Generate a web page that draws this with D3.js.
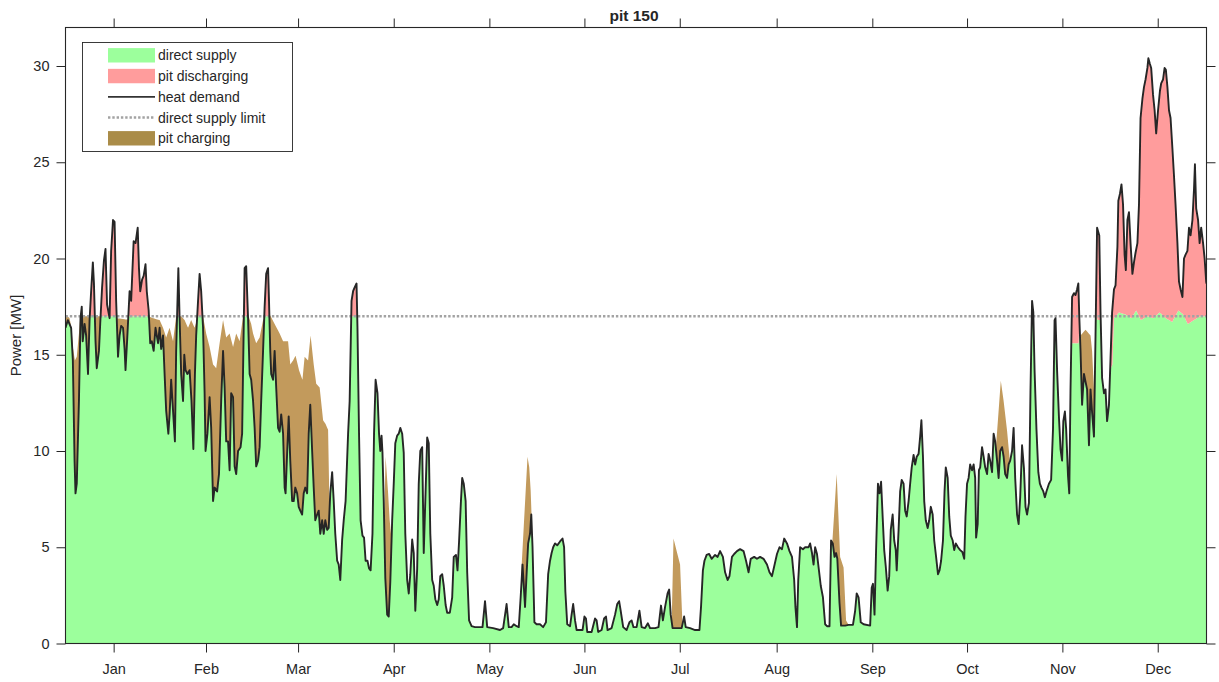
<!DOCTYPE html>
<html><head><meta charset="utf-8">
<script src="https://cdn.jsdelivr.net/npm/d3@7"></script>
<style>
body{margin:0;background:#fff;}
svg text{font-family:"Liberation Sans",Arial,Helvetica,sans-serif;fill:#262626;}
</style>
</head><body>
<svg id="chart" width="1219" height="682"></svg>
<script>
// ---------------- data ----------------
const chartTitle = "pit 150";
const monthLabels = ["Jan","Feb","Mar","Apr","May","Jun","Jul","Aug","Sep","Oct","Nov","Dec"];
const monthTickDays = [15.4,44.95,74.4,105.0,135.6,166.0,196.5,227.5,258.1,288.4,318.9,349.4];
const yTicks = [0,5,10,15,20,25,30];
const supplyLimit = 17;

// heat demand [day of year, MW]
const heatDemand = [
[0,16.4],[0.75,16.8],[1.8,16.4],[2.35,14.7],[2.9,9.5],[3.2,7.8],[3.6,8.3],[4.3,12.6],[4.8,16.9],[5.2,17.5],[5.5,15.7],[6.1,16.6],[6.6,16.0],[7.2,14.0],[7.7,16.8],[8.2,18.3],[8.75,19.8],[9.1,18.7],[9.6,15.7],[10.0,14.3],[10.7,15.2],[11.1,16.6],[11.7,18.5],[12.3,19.9],[12.8,20.5],[13.3,17.6],[14.1,16.9],[14.6,20.4],[15.2,22.0],[15.7,21.9],[16.2,17.8],[16.8,14.9],[17.3,16.0],[17.8,16.5],[18.4,16.4],[18.9,15.3],[19.2,14.2],[19.7,15.7],[20.5,18.3],[21.0,17.8],[21.8,20.9],[22.4,20.8],[23.1,21.6],[23.5,19.5],[23.9,18.3],[24.5,18.9],[25.0,19.1],[25.6,19.7],[26.0,18.3],[26.6,17.3],[27.1,15.6],[27.6,15.7],[28.2,15.2],[28.8,16.4],[29.6,15.6],[30.1,16.4],[30.6,15.3],[31.2,16.0],[31.7,14.0],[32.2,12.1],[32.9,10.9],[33.3,11.9],[33.8,13.7],[34.4,12.1],[35.0,10.5],[35.4,15.2],[36.1,19.5],[36.5,16.9],[37.0,14.0],[37.6,12.6],[38.0,15.0],[38.4,14.2],[39.0,14.0],[39.7,14.2],[40.3,12.6],[40.9,10.1],[41.4,14.0],[41.8,16.0],[42.4,17.8],[42.9,19.2],[43.4,18.3],[44.0,16.4],[44.5,13.0],[44.8,10.0],[45.4,10.9],[46.1,12.8],[46.6,11.2],[47.2,7.4],[47.7,8.1],[48.5,7.9],[49.1,8.8],[49.8,12.6],[50.4,15.2],[50.9,13.3],[51.4,10.5],[52.0,10.5],[52.5,9.0],[53.0,13.0],[53.6,12.8],[54.1,9.2],[54.6,8.8],[55.2,10.0],[56.0,10.2],[56.5,10.9],[56.8,14.2],[57.3,19.5],[57.8,19.6],[58.4,16.9],
[58.9,14.0],[59.4,13.7],[60.0,12.6],[60.5,11.2],[61.0,9.2],[61.6,9.5],[62.1,10.2],[62.6,12.6],[63.2,15.2],[63.7,17.5],[64.2,19.2],[64.8,19.5],[65.1,17.8],[65.5,15.2],[65.8,14.0],[66.4,13.7],[66.9,15.2],[67.4,13.3],[68.0,11.2],[68.5,11.0],[69.0,11.9],[69.6,10.9],[70.1,8.1],[70.4,7.8],[70.9,9.9],[71.4,11.8],[71.9,9.5],[72.5,7.4],[73.0,7.4],[73.5,8.1],[74.1,7.8],[74.6,7.1],[75.1,6.9],[75.7,6.7],[76.2,7.8],[76.7,8.1],[77.3,7.8],[77.8,10.9],[78.3,12.4],[78.9,10.0],[79.4,8.1],[79.9,6.4],[80.5,6.7],[81.0,6.9],[81.5,5.7],[82.1,6.4],[82.6,5.7],[83.1,6.4],[83.7,5.9],[84.2,6.0],[84.7,7.8],[85.3,8.9],[85.8,7.4],[86.3,5.7],[86.9,4.3],[87.4,4.1],[87.9,3.3],[88.5,5.4],[89.0,6.4],[89.6,7.4],[90.4,10.9],[90.9,12.6],[91.5,17.8],[92.0,18.3],[92.5,18.5],[93.1,18.7],[93.4,16.4],[93.9,10.9],[94.4,6.4],[95.0,5.6],[95.5,5.5],[96.0,4.3],[96.6,4.3],[97.1,3.9],[97.6,3.8],[98.2,5.7],[98.7,10.9],[99.2,13.7],[99.8,13.0],[100.3,10.9],[100.7,10.0],[101.1,10.8],[101.4,9.9],[101.8,7.4],[102.3,3.4],[102.9,1.5],[103.4,1.4],[103.9,3.2],[104.5,6.4],[105.0,8.3],[105.5,10.4],[106.1,10.8],[106.6,10.9],[107.1,11.2],[107.7,10.9],[108.2,9.9],[108.7,5.7],[109.3,3.3],[109.8,2.6],[110.3,3.6],[110.9,5.4],[111.4,4.7],[111.9,1.7],[112.5,3.9],[113.0,8.3],[113.5,10.0],[114.1,10.2],[114.6,4.7],[115.1,7.4],[115.7,10.7],[116.2,10.4],[116.7,5.7],[117.3,3.3],[117.8,3.0],[118.3,2.3],[118.9,2.0],[119.4,2.3],[119.9,3.5],[120.5,3.6],[121.0,3.0],[121.6,2.0],
[122.1,1.6],[122.95,1.6],[123.7,2.4],[124.2,4.5],[124.9,4.6],[125.4,3.8],[125.9,5.3],[126.5,7.4],[126.9,8.6],[127.4,8.3],[128.0,7.4],[128.5,3.7],[129.1,1.2],[129.9,0.9],[131.0,0.85],[132.6,0.85],[133.4,0.85],[134.2,2.2],[134.9,0.85],[136.8,0.8],[139.0,0.7],[140.0,0.8],[141.1,2.05],[141.8,0.85],[142.7,0.85],[143.4,1.0],[144.3,0.9],[145.0,0.85],[145.6,2.4],[146.2,4.1],[146.6,3.0],[147.0,1.9],[147.5,3.6],[148.0,5.2],[148.6,5.7],[149.0,6.7],[149.4,5.0],[150.0,1.1],[150.7,1.0],[151.8,1.0],[152.8,0.85],[153.7,1.1],[154.4,3.6],[155.0,4.3],[155.5,4.7],[156.0,5.0],[156.6,5.2],[157.3,5.1],[158.2,5.3],[159.0,5.45],[159.5,5.0],[159.9,2.7],[160.5,1.0],[161.4,0.9],[161.9,1.5],[162.4,2.05],[163.0,1.2],[163.5,0.7],[165.4,0.7],[166.0,1.4],[166.5,1.3],[166.9,0.6],[168.3,0.6],[169.4,1.3],[169.9,1.2],[170.4,0.6],[171.5,0.7],[172.3,1.3],[172.9,1.4],[173.4,0.7],[174.7,0.8],[175.8,1.5],[176.5,2.05],[177.1,2.2],[177.6,1.7],[178.4,0.85],[179.5,0.7],[180.4,1.1],
[181.1,1.2],[181.7,0.85],[182.7,0.85],[183.6,1.7],[184.3,0.85],[185.4,0.8],[186.3,1.05],[187.0,0.8],[188.6,0.8],[189.7,0.85],[190.5,1.97],[191.1,1.2],[191.8,1.9],[192.6,2.6],[193.1,2.8],[193.6,1.5],[194.2,0.8],[195.5,0.8],[197.1,0.8],[197.9,1.4],[198.4,0.85],[199.8,0.8],[201.4,0.7],[202.8,0.7],[203.3,1.9],[203.9,3.8],[204.4,4.3],[205.1,4.6],[205.9,4.65],[206.7,4.4],[207.8,4.6],[208.6,4.5],[209.4,4.8],[210.3,4.5],[211.0,3.7],[211.8,3.3],[212.4,3.5],[213.2,4.5],[213.9,4.65],[214.8,4.8],[215.8,4.9],[216.9,4.8],[217.7,4.3],[218.5,3.7],[219.2,4.4],[220.3,4.5],[221.2,4.4],[222.2,4.5],[223.3,4.4],[224.4,4.1],[225.2,3.7],[226.0,3.5],[226.7,4.0],[227.6,4.65],[228.4,5.0],[229.2,4.9],[229.9,5.45],[230.8,5.2],[231.6,4.8],[232.4,4.5],[233.1,3.3],[233.5,1.9],[234.0,0.85],[234.4,3.3],[235.0,5.0],[235.9,4.9],[236.6,5.0],[237.7,5.0],[238.2,5.2],[238.8,4.7],[239.3,4.1],[239.8,5.0],[240.4,4.65],[241.1,3.7],[241.6,3.0],[242.3,2.4],[243.0,1.0],[243.6,0.9],[244.4,0.9],
[244.6,2.75],[244.9,5.35],[245.45,5.2],[246.0,4.5],[246.5,4.7],[246.9,4.4],[247.6,2.1],[248.1,0.93],[249.4,0.93],[250.5,0.97],[251.9,0.97],[252.6,1.7],[253.1,2.6],[253.7,2.4],[254.4,1.1],[255.3,1.0],[257.4,0.93],[257.9,2.9],[258.3,3.1],[258.8,1.5],[259.3,4.85],[259.9,8.3],[260.4,7.8],[260.9,8.4],[261.4,6.6],[261.9,4.85],[262.4,4.0],[263.0,2.75],[263.5,3.5],[264.0,5.9],[264.6,6.7],[265.1,5.35],[265.6,4.85],[265.9,3.8],[266.5,5.9],[267.0,7.9],[267.5,8.5],[268.1,8.3],[268.6,6.9],[269.1,6.6],[269.7,7.4],[270.2,8.3],[270.7,9.15],[271.3,9.8],[271.8,9.3],[272.3,9.7],[272.9,9.85],[273.4,10.75],[273.8,11.6],[274.3,9.7],[274.7,7.4],[275.2,6.4],[275.8,6.0],[276.3,6.4],[276.8,7.1],[277.4,6.7],[277.9,5.35],[278.5,4.5],[279.1,3.6],[279.6,3.8],[280.1,4.3],[280.7,5.35],[281.2,7.9],[281.6,9.15],[282.2,8.6],[282.7,6.6],[283.2,5.6],[283.8,5.35],[284.3,4.85],[284.8,5.2],[285.5,5.0],[286.2,4.85],[286.9,4.75],[287.5,4.4],[287.9,6.6],[288.4,8.3],[288.9,8.6],[289.4,9.3],[290.0,9.0],[290.5,9.3],[291.0,8.6],[291.3,5.5],[291.8,6.2],[292.2,9.0],[292.6,9.15],[293.2,10.2],[293.7,9.7],[294.2,9.15],[294.8,8.8],[295.3,9.85],[295.8,9.5],[296.4,8.9],[296.9,10.9],[297.4,10.5],[298.0,9.5],[298.5,8.6],[299.0,10.0],[299.6,10.2],[300.1,9.7],[300.6,8.8],[301.2,8.6],[301.7,9.3],[302.2,9.5],[302.8,10.0],[303.3,11.2],[303.8,8.6],[304.4,6.7],[304.9,6.2],[305.4,7.6],
[306.0,10.3],[306.6,9.1],[307.1,7.1],[307.6,6.7],[308.2,7.3],[308.7,13.2],[309.2,17.8],[309.6,17.2],[310.0,14.2],[310.6,11.15],[311.2,8.9],[311.7,8.3],[312.2,8.1],[312.8,7.9],[313.3,7.6],[313.8,7.9],[314.6,8.3],[315.3,8.5],[315.9,11.15],[316.4,16.8],[316.7,16.9],[317.2,14.2],[317.8,11.75],[318.3,10.1],[318.8,9.5],[319.2,11.55],[319.7,12.05],[320.1,11.15],[320.7,8.7],[321.1,7.8],[321.5,13.2],[322.0,18.0],[322.6,18.2],[323.1,18.1],[323.6,18.4],[324.0,18.7],[324.3,17.0],[324.7,15.2],[325.2,12.4],[325.8,14.0],[326.3,13.6],[326.8,13.2],[327.4,10.3],[327.9,13.2],[328.4,12.0],[329.0,10.75],[329.5,16.0],[330.0,21.6],[330.7,21.2],[331.1,17.2],[331.6,13.8],[332.2,13.0],[332.7,13.2],[333.2,11.55],[333.8,12.4],[334.3,14.8],[334.8,17.2],[335.4,18.4],[335.9,18.6],[336.5,20.6],[336.8,23.0],[337.3,23.35],[337.8,23.85],[338.3,22.8],[338.8,20.2],[339.2,19.4],[339.7,22.0],[340.2,22.4],[340.7,20.8],[341.3,19.2],[341.8,19.8],[342.3,20.3],[342.9,20.8],[343.4,22.8],[343.9,27.3],[344.5,28.3],[345.0,28.9],[345.5,29.3],[346.1,29.9],[346.4,30.4],[346.9,30.1],[347.3,29.9],[347.9,28.5],[348.4,27.7],[348.9,26.5],[349.5,27.7],[350.1,28.7],[350.5,29.1],[351.1,29.3],[351.6,29.9],[352.0,29.8],[352.5,28.9],[353.0,27.7],[353.5,27.3],[354.1,25.7],[354.6,24.3],[355.1,22.8],[355.7,20.8],[356.2,18.8],[356.7,18.4],[357.3,18.0],[357.8,20.0],[358.3,20.2],[358.9,20.4],[359.4,21.6],[359.9,21.2],[360.5,22.0],[361.0,23.6],[361.3,24.9],[361.7,22.6],[362.3,22.0],[362.8,20.8],[363.3,21.6],[363.9,20.8],[364.4,20.0],[364.9,18.8],[365,18.7]
];

// level actually met by direct supply (it stays at the limit except where it visibly falls short)
const directSupplyCap = [
[0,17],[321.3,17],[321.6,15.6],[324.1,15.6],[324.4,17],[329.8,17],[330.2,16.8],[331,16.8],[331.3,17],
[333.9,17],[334.2,14.2],[334.9,14.5],[335.4,16.9],[337,17.2],[339,17.1],[341,16.9],[342.5,17.3],[344,16.8],[346,17.0],[348,16.9],[350,17.2],[352,16.9],[354,16.7],[356,17.3],[357.5,17.1],[359,16.6],[361,16.8],[363,17.0],[365,17.0]
];

// upper edge of the pit charging band, one list per charging episode [day, MW]
const pitChargingTop = [
 [[0,17.1],[1.3,16.9],[1.9,16.4],[2.35,15.4],[3.0,14.7],[3.6,14.9],[4.3,16.1],[4.7,16.9],[5.5,17.0],[8,17.0],[9.6,17.0],[11.4,17.0],[16.2,16.9],[21,16.8],[26.4,17.0],[28.0,16.9],[30.1,16.8],[31.2,16.4],[32.2,15.9],[33.3,16.4],[34.4,15.7],[35.4,17.0],[37.0,17.0],[38.1,16.8],[39.2,16.4],[40.2,16.8],[41.3,16.4],[42.4,17.0],[44.0,17.0],[45.0,16.1],[46.1,15.4],[47.2,14.5],[48.2,14.3],[49.3,15.6],[50.4,16.8],[51.4,15.9],[52.5,16.1],[53.6,15.4],[54.6,16.1],[55.7,15.7],[56.8,17.0],[58.4,17.1],[59.4,16.6],[60.0,16.1],[61.0,15.6],[62.1,15.9],[63.2,16.8],[65.3,17.1],[66.9,16.6],[68.5,16.1],[69.6,15.7],[71.2,15.7],[71.9,14.5],[72.8,14.7],[73.6,14.95],[74.7,14.2],[75.8,13.7],[76.5,14.9],[77.6,14.7],[78.4,16.0],[79.4,14.5],[80.2,13.5],[81.3,13.3],[82.4,11.6],[83.2,11.4],[84.0,11.1],[84.5,6.6]],
 [[101.95,6.3],[102.4,9.7],[103.2,7.8],[103.7,6.4],[104.3,5.4]],
 [[145.9,4.0],[147.8,9.7],[148.35,9.15],[148.8,7.95],[149.1,6.6]],
 [[193.9,1.0],[194.5,5.45],[196.6,4.1],[197.4,0.85]],
 [[245.3,5.25],[246.7,8.8],[247.8,4.5],[248.9,3.95],[249.7,1.2]],
 [[297.6,10.1],[299.2,13.65],[300.1,12.6],[301.2,11.05],[302.2,9.3]],
 [[324.4,16.6],[324.7,16.0],[326.3,16.3],[327.9,16.0],[328.4,15.2],[329.0,13.2],[329.4,11.5]]
];

const legendItems = [
 {label:"direct supply", type:"rect", color:"#9CFF9C"},
 {label:"pit discharging", type:"rect", color:"#FF9C9C"},
 {label:"heat demand", type:"line", color:"#333333"},
 {label:"direct supply limit", type:"dot", color:"#A3A3A3"},
 {label:"pit charging", type:"rect", color:"#AA8C48"}
];

// ---------------- drawing ----------------
const COLORS = {green:"#9CFF9C", red:"#FF9C9C", brown:"#C29A5C", line:"#262626", limit:"#A3A3A3", axis:"#262626"};
const svg = d3.select("#chart");
const PL = 65.5, PR = 1206.5, PT = 27.5, PB = 643.5;
const xS = d3.scaleLinear().domain([0,365]).range([PL,PR]);
const yS = d3.scaleLinear().domain([0,32]).range([PB,PT]);

const bis = d3.bisector(d => d[0]).right;
function interp(s, xv){
  if (xv <= s[0][0]) return s[0][1];
  if (xv >= s[s.length-1][0]) return s[s.length-1][1];
  const i = bis(s, xv);
  const a = s[i-1], b = s[i];
  return a[1] + (b[1]-a[1])*(xv-a[0])/(b[0]-a[0]);
}
function episodeAt(xv){
  for (let k=0;k<pitChargingTop.length;k++){
    const ep = pitChargingTop[k];
    if (xv >= ep[0][0] && xv <= ep[ep.length-1][0]) return k;
  }
  return -1;
}
const dem = xv => interp(heatDemand, xv);
const cap = xv => interp(directSupplyCap, xv);

// common grid of breakpoints plus exact crossing points
const xsSet = new Set([0,365]);
heatDemand.forEach(p=>xsSet.add(p[0]));
directSupplyCap.forEach(p=>xsSet.add(p[0]));
pitChargingTop.forEach(ep=>ep.forEach(p=>xsSet.add(p[0])));
const xsArr = Array.from(xsSet).sort((a,b)=>a-b);
const grid = [];
for (let i=0;i<xsArr.length;i++){
  const a = xsArr[i]; grid.push(a);
  if (i === xsArr.length-1) break;
  const b = xsArr[i+1];
  const cuts = [];
  const fa = dem(a)-cap(a), fb = dem(b)-cap(b);
  if (fa*fb < 0) cuts.push(a + (b-a)*fa/(fa-fb));
  const ea = episodeAt(a), eb = episodeAt(b);
  if (ea >= 0 && ea === eb){
    const ep = pitChargingTop[ea];
    const ga = interp(ep,a)-dem(a), gb = interp(ep,b)-dem(b);
    if (ga*gb < 0) cuts.push(a + (b-a)*ga/(ga-gb));
  }
  cuts.sort((p,q)=>p-q).forEach(c=>grid.push(c));
}
const rows = grid.map(xv => {
  const d = dem(xv);
  const s = Math.min(d, cap(xv));
  const e = episodeAt(xv);
  const c = e >= 0 ? Math.max(d, interp(pitChargingTop[e], xv)) : d;
  return {x:xv, d, s, c};
});

svg.append("defs").append("clipPath").attr("id","plotclip")
  .append("rect").attr("x",PL).attr("y",PT).attr("width",PR-PL).attr("height",PB-PT);
const plot = svg.append("g").attr("clip-path","url(#plotclip)");

plot.append("path").datum(rows).attr("fill",COLORS.green)
  .attr("d", d3.area().x(r=>xS(r.x)).y0(yS(0)).y1(r=>yS(r.s)));
plot.append("path").datum(rows).attr("fill",COLORS.red)
  .attr("d", d3.area().x(r=>xS(r.x)).y0(r=>yS(r.s)).y1(r=>yS(r.d)));
plot.append("path").datum(rows).attr("fill",COLORS.brown)
  .attr("d", d3.area().x(r=>xS(r.x)).y0(r=>yS(r.d)).y1(r=>yS(r.c)));

plot.append("line").attr("x1",xS(0)).attr("x2",xS(365))
  .attr("y1",yS(supplyLimit)).attr("y2",yS(supplyLimit))
  .attr("stroke",COLORS.limit).attr("stroke-width",2.6).attr("stroke-dasharray","2.4,1.9");

plot.append("path").datum(heatDemand).attr("fill","none").attr("stroke",COLORS.line)
  .attr("stroke-width",1.9).attr("stroke-linejoin","round")
  .attr("d", d3.line().x(p=>xS(p[0])).y(p=>yS(p[1])));

// axes
function styleAxis(g, fs){
  g.attr("color",COLORS.axis);
  g.select(".domain").remove();
  g.selectAll(".tick line").attr("stroke-width",1);
  g.selectAll("text").attr("font-size",fs).attr("font-family",null).style("fill","#262626");
}
const axB = svg.append("g").attr("transform",`translate(0,${PB})`)
  .call(d3.axisBottom(xS).tickValues(monthTickDays).tickFormat((d,i)=>monthLabels[i]).tickSize(9).tickPadding(11));
styleAxis(axB, "14.5px");
const axT = svg.append("g").attr("transform",`translate(0,${PT})`)
  .call(d3.axisTop(xS).tickValues(monthTickDays).tickFormat("").tickSize(9));
styleAxis(axT, "14px");
const axL = svg.append("g").attr("transform",`translate(${PL},0)`)
  .call(d3.axisLeft(yS).tickValues(yTicks).tickSize(9).tickPadding(7));
styleAxis(axL, "14.5px");
const axR = svg.append("g").attr("transform",`translate(${PR},0)`)
  .call(d3.axisRight(yS).tickValues(yTicks).tickFormat("").tickSize(9));
styleAxis(axR, "14px");

svg.append("rect").attr("x",PL).attr("y",PT).attr("width",PR-PL).attr("height",PB-PT)
  .attr("fill","none").attr("stroke",COLORS.axis).attr("stroke-width",1.1);

svg.append("text").attr("x",(PL+PR)/2 - 2).attr("y",21).attr("text-anchor","middle")
  .attr("font-size","15.5px").attr("font-weight","bold").text(chartTitle);

svg.append("text").attr("transform",`translate(21,${(PT+PB)/2}) rotate(-90)`)
  .attr("text-anchor","middle").attr("font-size","15px").text("Power [MW]");

// legend
const lg = svg.append("g");
lg.append("rect").attr("x",82.5).attr("y",42.5).attr("width",210).attr("height",109)
  .attr("fill","#fff").attr("stroke",COLORS.axis).attr("stroke-width",0.9);
const rowY = d3.scalePoint().domain(legendItems.map(d=>d.label)).range([55.3,138.3]);
legendItems.forEach(it => {
  const yy = rowY(it.label);
  if (it.type === "rect"){
    lg.append("rect").attr("x",108).attr("y",yy-7.2).attr("width",47).attr("height",14.4).attr("fill",it.color);
  } else if (it.type === "line"){
    lg.append("line").attr("x1",108).attr("x2",155).attr("y1",yy).attr("y2",yy)
      .attr("stroke",it.color).attr("stroke-width",1.8);
  } else {
    lg.append("line").attr("x1",108).attr("x2",155).attr("y1",yy).attr("y2",yy)
      .attr("stroke",it.color).attr("stroke-width",2.4).attr("stroke-dasharray","2.4,1.9");
  }
  lg.append("text").attr("x",158).attr("y",yy).attr("dy","0.36em").attr("font-size","14px").text(it.label);
});
</script>
</body></html>
